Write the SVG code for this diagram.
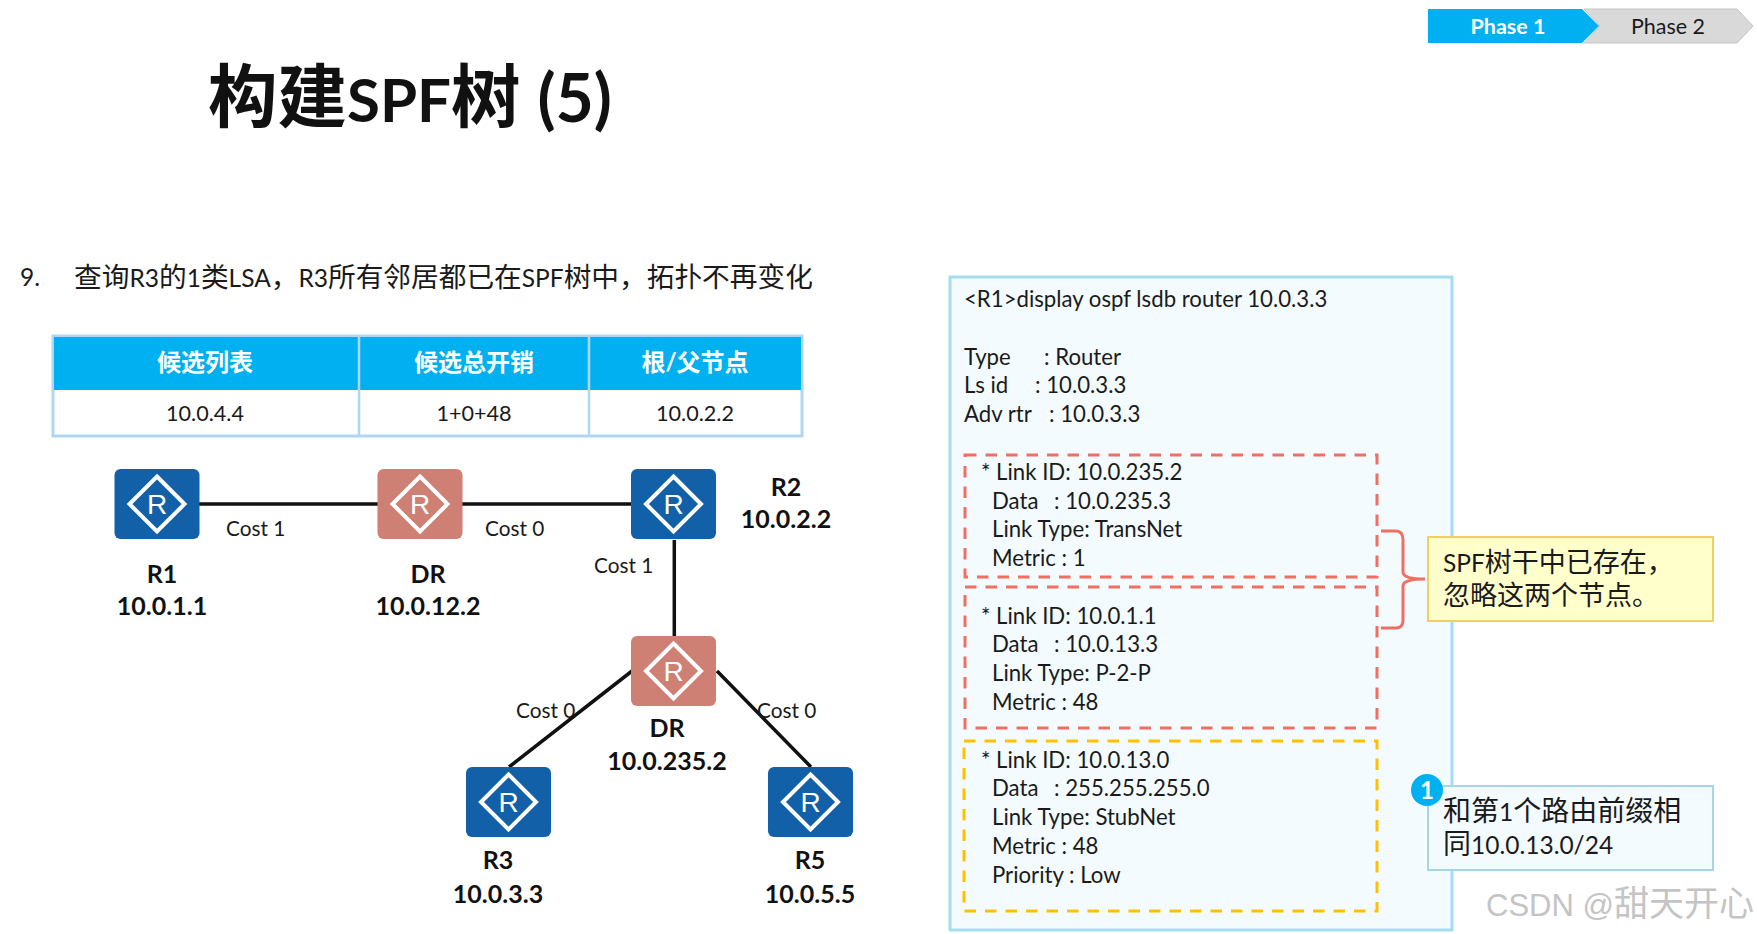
<svg xmlns="http://www.w3.org/2000/svg" width="1757" height="934" viewBox="0 0 1757 934">
<style>
text{font-family:Lato,"Noto Sans CJK SC",sans-serif;fill:#1a1a1a}
.b{font-size:25px;font-weight:700;text-anchor:middle;fill:#111}
.c{font-size:20.8px}
.m{font-size:22.200px}
.th{font-size:24px;font-weight:700;fill:#fff;text-anchor:middle}
.td{font-size:21.6px;text-anchor:middle}
.ln{stroke:#111;stroke-width:3.5;fill:none}
.ri{fill:none;stroke:#fff;stroke-width:4}
.rt{font-family:"Liberation Sans",sans-serif;font-size:28px;fill:#fff;text-anchor:middle}
.n{font-size:27px}
.nl{font-size:24.500px}
.s{font-size:24.500px}
.red{fill:none;stroke:#ee7063;stroke-width:3;stroke-dasharray:11.500 9}
</style>
<defs>
<g id="r"><rect x="-42.500" y="-35" width="85" height="70" rx="6"/><path class="ri" d="M0-27.500L27.500 0L0 27.500L-27.500 0Z"/><text class="rt" y="10">R</text></g>
</defs>
<rect width="1757" height="934" fill="#fff"/>
<text x="208" y="122" style="font-size:69.500px;font-weight:700;fill:#111">构建<tspan style="font-size:60px">SPF</tspan>树 <tspan style="font-size:66px">(5)</tspan></text>
<g id="phase">
<path d="M1584 9H1737L1753 26L1737 43H1584L1600 26Z" fill="#d9d9d9" stroke="#c4c4c4"/>
<path d="M1428 9H1582L1599 26L1582 43H1428Z" fill="#00b0f0"/>
<text x="1508" y="34" style="font-size:21.500px;font-weight:700;fill:#fff;text-anchor:middle">Phase 1</text>
<text x="1668" y="34" style="font-size:21.500px;text-anchor:middle">Phase 2</text>
</g>
<text x="20" y="286" class="s">9.</text>
<text x="74" y="287" style="font-size:27.700px">查询<tspan class="s">R3</tspan>的<tspan class="s">1</tspan>类<tspan class="s">LSA</tspan>，<tspan class="s">R3</tspan>所有邻居都已在<tspan class="s">SPF</tspan>树中，拓扑不再变化</text>
<g id="table">
<rect x="53" y="336" width="749" height="100" fill="#fff" stroke="#afd6f2" stroke-width="3"/>
<rect x="54" y="337" width="747" height="53" fill="#00b0f0"/>
<path d="M359 336V436M589 336V436" stroke="#afd6f2" stroke-width="2.500"/>
<text class="th" x="205" y="371">候选列表</text><text class="th" x="474" y="371">候选总开销</text><text class="th" x="695" y="371">根/父节点</text>
<text class="td" x="205" y="421">10.0.4.4</text><text class="td" x="474" y="421">1+0+48</text><text class="td" x="695" y="421">10.0.2.2</text>
</g>
<g id="connectors">
<path class="ln" d="M199 504H631M674.300 540V636M632 671L509 767M717 671L811 767"/>
</g>
<g id="r1" fill="#1160a8"><use href="#r" x="157" y="504"/><text class="b" x="162" y="583">R1</text><text class="b" x="162" y="615">10.0.1.1</text></g>
<g id="dr12" fill="#cf8075"><use href="#r" x="420" y="504"/><text class="b" x="428" y="583">DR</text><text class="b" x="428" y="615">10.0.12.2</text></g>
<g id="r2" fill="#1160a8"><use href="#r" x="673.500" y="504"/><text class="b" x="786" y="496">R2</text><text class="b" x="786" y="528">10.0.2.2</text></g>
<g id="dr235" fill="#cf8075"><use href="#r" x="673.500" y="671"/><text class="b" x="667" y="737">DR</text><text class="b" x="667" y="770">10.0.235.2</text></g>
<g id="r3" fill="#1160a8"><use href="#r" x="508.500" y="802"/><text class="b" x="498" y="869">R3</text><text class="b" x="498" y="903">10.0.3.3</text></g>
<g id="r5" fill="#1160a8"><use href="#r" x="810.500" y="802"/><text class="b" x="810" y="869">R5</text><text class="b" x="810" y="903">10.0.5.5</text></g>
<text class="c" x="226" y="536">Cost 1</text><text class="c" x="485" y="536">Cost 0</text><text class="c" x="594" y="573">Cost 1</text><text class="c" x="516" y="718">Cost 0</text><text class="c" x="757" y="718">Cost 0</text>
<g id="lsdb">
<rect x="950" y="277" width="502" height="653" fill="#f3fbff" stroke="#a6dcf0" stroke-width="3"/>
<text class="m" x="964" y="307">&lt;R1&gt;display ospf lsdb router 10.0.3.3</text>
<text class="m" x="964" y="365">Type</text><text class="m" x="1044" y="365">: Router</text>
<text class="m" x="964" y="393">Ls id</text><text class="m" x="1035" y="393">: 10.0.3.3</text>
<text class="m" x="964" y="422">Adv rtr</text><text class="m" x="1049" y="422">: 10.0.3.3</text>
<text class="m" x="981" y="480">* Link ID: 10.0.235.2</text><text class="m" x="992" y="509">Data</text><text class="m" x="1054" y="509">: 10.0.235.3</text><text class="m" x="992" y="537">Link Type: TransNet</text><text class="m" x="992" y="566">Metric : 1</text>
<text class="m" x="981" y="624">* Link ID: 10.0.1.1</text><text class="m" x="992" y="652">Data</text><text class="m" x="1054" y="652">: 10.0.13.3</text><text class="m" x="992" y="681">Link Type: P-2-P</text><text class="m" x="992" y="710">Metric : 48</text>
<text class="m" x="981" y="768">* Link ID: 10.0.13.0</text><text class="m" x="992" y="796">Data</text><text class="m" x="1054" y="796">: 255.255.255.0</text><text class="m" x="992" y="825">Link Type: StubNet</text><text class="m" x="992" y="854">Metric : 48</text><text class="m" x="992" y="883">Priority : Low</text>
<path class="red" d="M965 455H1377V577H965Z"/><path class="red" d="M965 587H1377V728H965Z"/>
<rect x="964" y="741" width="413" height="170" fill="none" stroke="#ffc000" stroke-width="3" stroke-dasharray="11.500 9"/>
</g>
<path d="M1381 531H1396Q1403 531 1403 540V572Q1403 579 1425 579Q1403 579 1403 586V620Q1403 628 1396 628H1381" fill="none" stroke="#ee7063" stroke-width="3"/>
<g id="note1"><rect x="1428" y="537" width="285" height="84" fill="#ffffcc" stroke="#f0d060" stroke-width="2"/>
<text x="1443" y="572" class="n"><tspan class="nl">SPF</tspan>树干中已存在，</text><text x="1443" y="605" class="n">忽略这两个节点。</text></g>
<g id="note2"><rect x="1428" y="786" width="285" height="84" fill="#f3fbff" stroke="#a6d4e8" stroke-width="2"/>
<text x="1443" y="821" style="font-size:28px">和第<tspan class="nl">1</tspan>个路由前缀相</text><text x="1443" y="854" style="font-size:28px">同<tspan class="nl">10.0.13.0/24</tspan></text>
<circle cx="1427" cy="790" r="16" fill="#00b0f0"/><text x="1427" y="799" style="font-size:24px;font-weight:700;fill:#fff;text-anchor:middle">1</text></g>
<text x="1486" y="916" style="font-family:'Liberation Sans','Noto Sans CJK SC',sans-serif;font-size:35px;fill:#c4c4c4"><tspan style="font-size:31px">CSDN @</tspan>甜天开心</text>
</svg>
